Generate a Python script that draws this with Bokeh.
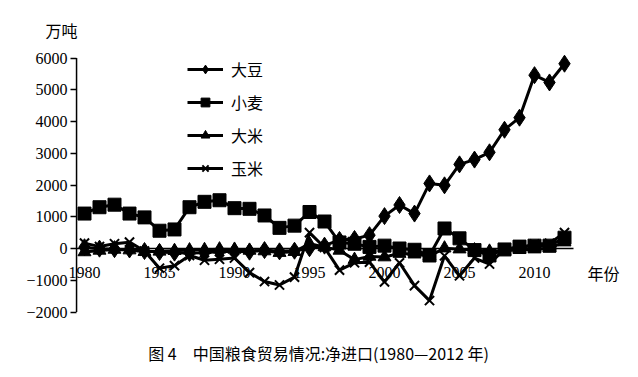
from bokeh.plotting import figure
from bokeh.models import Range1d, FixedTicker, Legend, LegendItem, Label
from bokeh.embed import file_html
from bokeh.resources import INLINE

years = list(range(1980, 2013))

soybean = [40, -5, -20, -30, -80, -110, -130, -140, -130, -100,
           -90, -100, -50, -90, -70, 10, 90, 270, 300, 420,
           1020, 1370, 1100, 2050, 1990, 2650, 2800, 3030, 3740, 4120,
           5460, 5230, 5820]
wheat = [1100, 1300, 1380, 1100, 980, 560, 600, 1300, 1470, 1520,
         1270, 1250, 1040, 650, 720, 1150, 850, 190, 150, 50,
         90, 0, -40, -220, 630, 320, -50, -220, -30, 60,
         90, 90, 340]
rice = [-110, -60, -30, -50, -100, -90, -70, -50, -40, -20,
        -30, -60, -80, -130, -100, 150, 50, -60, -350, -250,
        -270, -160, -180, -240, 10, -20, -50, -90, -70, -40,
        -20, 10, 200]
corn = [170, 60, 150, 200, -80, -620, -540, -220, -370, -340,
        -300, -760, -1040, -1150, -900, 500, 30, -680, -450, -430,
        -1050, -450, -1170, -1640, -230, -860, -300, -490, -20, 0,
        140, 160, 500]

series_names = ["大豆", "小麦", "大米", "玉米"]
y_ticks = [-2000, -1000, 0, 1000, 2000, 3000, 4000, 5000, 6000]
x_ticks = [1980, 1985, 1990, 1995, 2000, 2005, 2010]
y_unit = "万吨"
x_unit = "年份"
caption = "图 4　中国粮食贸易情况:净进口(1980—2012 年)"

CJK = "Noto Sans CJK SC"
SERIF = "Liberation Serif"

AXIS_X = 1979.47     # where the vertical axis crosses
X_END = 2012.6       # end of horizontal axis line

W, H = 630, 368
p = figure(width=W, height=H, output_backend="svg", toolbar_location=None,
           x_range=Range1d(1974.4, 1974.4 + W / 15.0),
           y_range=Range1d(-(H - 248) / 0.03175, 248 / 0.03175),
           min_border_left=0, min_border_right=0, min_border_top=0,
           min_border_bottom=0)
p.outline_line_color = None
p.xgrid.visible = False
p.ygrid.visible = False
p.background_fill_color = "white"
p.border_fill_color = "white"

# y axis (fixed at AXIS_X)
ya = p.yaxis[0]
ya.fixed_location = AXIS_X
ya.ticker = FixedTicker(ticks=y_ticks)
ya.major_label_overrides = {-2000: "−2000", -1000: "−1000"}
ya.major_tick_in = 0
ya.major_tick_out = 6
ya.minor_tick_in = 0
ya.minor_tick_out = 0
ya.axis_line_color = None
ya.major_tick_line_width = 1.5
ya.major_label_standoff = 3
ya.major_label_text_font = SERIF
ya.major_label_text_font_size = "16px"
ya.major_label_text_color = "black"

# x axis at y = 0
xa = p.xaxis[0]
xa.fixed_location = 0
xa.ticker = FixedTicker(ticks=x_ticks)
xa.major_tick_in = 0
xa.major_tick_out = 0
xa.minor_tick_in = 0
xa.minor_tick_out = 0
xa.axis_line_color = None
xa.major_label_standoff = 18
xa.major_label_text_font = SERIF
xa.major_label_text_font_size = "16px"
xa.major_label_text_color = "black"

# axis lines limited to the tick span
p.segment(x0=[AXIS_X], y0=[min(y_ticks)], x1=[AXIS_X], y1=[max(y_ticks)],
          line_color="black", line_width=1.5)
p.segment(x0=[AXIS_X], y0=[0], x1=[X_END], y1=[0],
          line_color="black", line_width=1.5)

LW = 3
r1 = p.line(years, soybean, line_color="black", line_width=LW)
m1 = p.scatter(years, soybean, marker="diamond", size=17, color="black")
r2 = p.line(years, wheat, line_color="black", line_width=LW)
m2 = p.scatter(years, wheat, marker="square", size=13, color="black")
r3 = p.line(years, rice, line_color="black", line_width=LW)
m3 = p.scatter(years, rice, marker="triangle", size=13, color="black")
r4 = p.line(years, corn, line_color="black", line_width=LW)
m4 = p.scatter(years, corn, marker="x", size=13, line_color="black", line_width=2)

items = []
for name, rs in zip(series_names, [(r1, m1), (r2, m2), (r3, m3), (r4, m4)]):
    items.append(LegendItem(label=name, renderers=list(rs)))

legend = Legend(items=items, location=(187, H - 180), orientation="vertical",
                padding=0, margin=0, spacing=9, glyph_width=36, glyph_height=22,
                label_standoff=8, label_text_font=CJK, label_text_font_size="16px",
                label_text_color="black", border_line_color=None,
                background_fill_alpha=0)
p.add_layout(legend, "center")

p.add_layout(Label(x=61, y=H - 29, x_units="screen", y_units="screen", text=y_unit,
                   text_font=CJK, text_font_size="16px", text_align="center",
                   text_baseline="middle", text_color="black"))
p.add_layout(Label(x=603, y=H - 272, x_units="screen", y_units="screen", text=x_unit,
                   text_font=CJK, text_font_size="16px", text_align="center",
                   text_baseline="middle", text_color="black"))
p.add_layout(Label(x=318, y=H - 352, x_units="screen", y_units="screen", text=caption,
                   text_font=CJK, text_font_size="16px", text_align="center",
                   text_baseline="middle", text_color="black"))

open("out.html", "w").write(file_html(p, INLINE))
